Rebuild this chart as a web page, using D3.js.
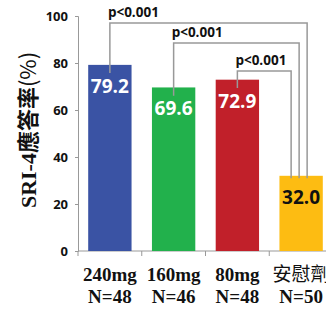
<!DOCTYPE html>
<html>
<head>
<meta charset="utf-8">
<script src="https://cdn.jsdelivr.net/npm/d3@7"></script>
<style>
  html, body { margin: 0; padding: 0; background: #fff; overflow: hidden; }
  svg { display: block; }
</style>
</head>
<body>
<div id="chart"></div>
<script>
// SRI-4 response rate by dose group
const groups = ["240mg", "160mg", "80mg", "安慰劑"];
const groupN = ["N=48", "N=46", "N=48", "N=50"];
const rates = [79.2, 69.6, 72.9, 32.0];
const barColors = ["#3a53a4", "#22b14c", "#c1202a", "#fdbc12"];
const labelColors = ["#fff", "#fff", "#fff", "#111"];
const yTicks = [0, 20, 40, 60, 80, 100];

// pairwise comparisons vs placebo (bracket height in % units)
const comparisons = [
    { from: "240mg", to: "安慰劑", level: 97, label: "p<0.001" },
    { from: "160mg", to: "安慰劑", level: 88.5, label: "p<0.001" },
    { from: "80mg", to: "安慰劑", level: 76.6, label: "p<0.001" }
];

const W = 326, H = 311;
const sans = "'Open Sans', 'Noto Sans', sans-serif";
const serif = "'Liberation Serif', 'Times New Roman', serif";
const cjk = "'Noto Sans CJK TC', 'Noto Sans CJK SC', sans-serif";

const svg = d3.select("#chart").append("svg")
    .attr("width", W)
    .attr("height", H);

const x = d3.scaleBand().domain(groups).range([78, 333])
    .paddingInner(0.32).paddingOuter(0.16);
const y = d3.scaleLinear().domain([0, 100]).range([251, 16]);

// y axis
const yAxis = svg.append("g")
    .attr("transform", "translate(78,0)")
    .call(d3.axisLeft(y).tickValues(yTicks).tickSize(3).tickPadding(7));
yAxis.select(".domain").attr("stroke", "#999");
yAxis.selectAll(".tick line").attr("stroke", "#999");
yAxis.selectAll("text")
    .style("font-family", sans)
    .style("font-weight", "700")
    .style("font-size", "13px")
    .attr("fill", "#111");

// x axis baseline + ticks at band edges
svg.append("line")
    .attr("x1", 78).attr("x2", W)
    .attr("y1", y(0)).attr("y2", y(0))
    .attr("stroke", "#999");
svg.selectAll(".xtick")
    .data(groups)
    .enter().append("line")
    .attr("x1", d => x(d) - x.step() * x.paddingInner() / 2)
    .attr("x2", d => x(d) - x.step() * x.paddingInner() / 2)
    .attr("y1", y(0)).attr("y2", y(0) + 5)
    .attr("stroke", "#999");

// bars
svg.selectAll(".bar")
    .data(rates)
    .enter().append("rect")
    .attr("x", (d, i) => x(groups[i]))
    .attr("y", d => y(d))
    .attr("width", x.bandwidth())
    .attr("height", d => y(0) - y(d))
    .attr("fill", (d, i) => barColors[i]);

// brackets
const cx = g => x(g) + x.bandwidth() / 2;
comparisons.forEach((c, i) => {
    const x0 = cx(c.from);
    const x1 = cx(c.to) + 6 - 8 * i;
    const yTop = y(c.level);
    const y0 = y(rates[groups.indexOf(c.from)] - 3.5);
    const y1 = y(rates[groups.indexOf(c.to)] - 1);
    svg.append("path")
        .attr("d", `M${x0},${y0}V${yTop}H${x1}V${y1}`)
        .attr("fill", "none")
        .attr("stroke", "#999")
        .attr("stroke-width", 1.5);
    svg.append("text")
        .attr("x", x0 - 2)
        .attr("y", yTop - 6)
        .style("font-family", sans)
        .style("font-weight", "700")
        .style("font-size", "13.5px")
        .attr("fill", "#111")
        .text(c.label);
});

// value labels
svg.selectAll(".val")
    .data(rates)
    .enter().append("text")
    .attr("x", (d, i) => cx(groups[i]))
    .attr("y", d => y(d) + 28)
    .attr("text-anchor", "middle")
    .style("font-family", sans)
    .style("font-weight", "700")
    .style("font-size", "19px")
    .attr("fill", (d, i) => labelColors[i])
    .text(d => d.toFixed(1));

// category labels
const cat = svg.selectAll(".cat")
    .data(groups)
    .enter().append("text")
    .attr("text-anchor", "middle")
    .attr("fill", "#111");
cat.append("tspan")
    .attr("x", d => cx(d))
    .attr("y", 281)
    .style("font-family", d => /mg/.test(d) ? serif : cjk)
    .style("font-weight", d => /mg/.test(d) ? "700" : "400")
    .style("font-size", "19px")
    .text(d => d);
cat.append("tspan")
    .attr("x", d => cx(d))
    .attr("y", 303)
    .style("font-family", serif)
    .style("font-weight", "700")
    .style("font-size", "19px")
    .text((d, i) => groupN[i]);

// y axis title
const title = svg.append("text")
    .attr("transform", "translate(36,130) rotate(-90)")
    .attr("text-anchor", "middle")
    .attr("fill", "#111")
    .style("font-size", "22px");
title.append("tspan").style("font-family", serif).style("font-weight", "700").text("SRI-4");
title.append("tspan").style("font-family", cjk).style("font-weight", "700").text("應答率");
title.append("tspan").style("font-family", cjk).style("font-weight", "400").text("(%)");
</script>
</body>
</html>
